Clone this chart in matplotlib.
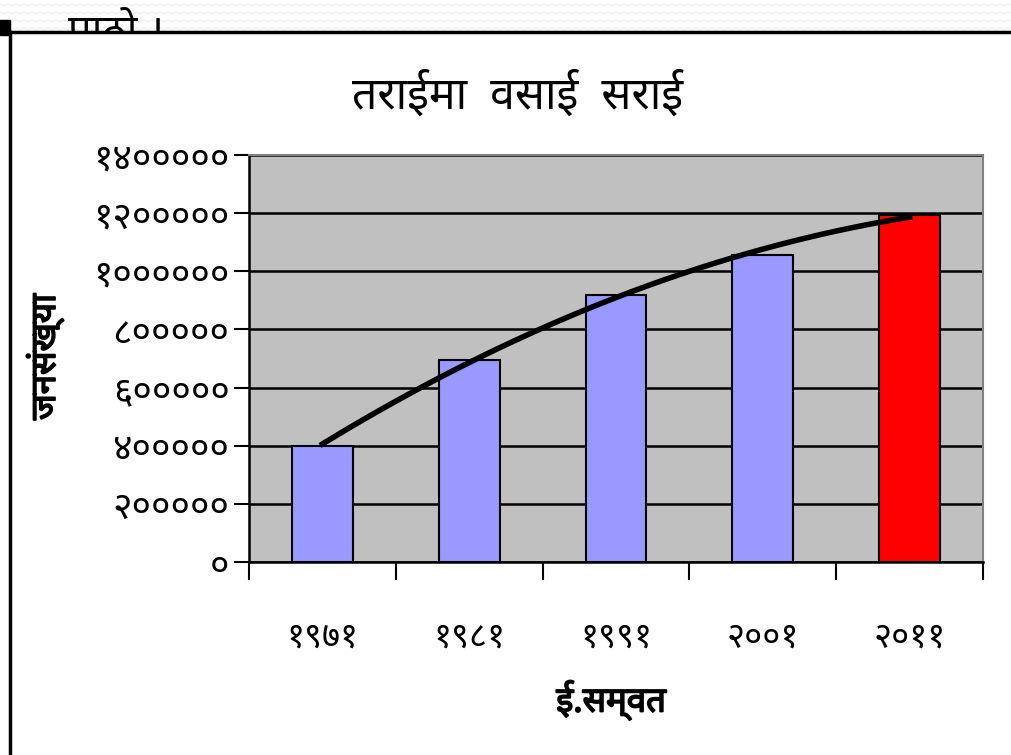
import numpy as np
import matplotlib
matplotlib.use("Agg")
import matplotlib.pyplot as plt
from matplotlib import font_manager as fm
from matplotlib import patheffects as pe
from matplotlib.transforms import Bbox, TransformedBbox

# डाटा
years = ['१९७१', '१९८१', '१९९१', '२००१', '२०११']
population = [400000, 695000, 918000, 1056000, 1195000]
bar_colors = ['#9999FF', '#9999FF', '#9999FF', '#9999FF', '#FF0000']
yticks = [0, 200000, 400000, 600000, 800000, 1000000, 1200000, 1400000]
ytick_labels = ['०', '२०००००', '४०००००', '६०००००', '८०००००',
                '१००००००', '१२०००००', '१४०००००']
title = 'तराईमा  वसाई  सराई'
xlabel = 'ई.सम्वत'
ylabel = 'जनसंख्या'
top_text = 'पाठो ।'

# Devanagari font (Mangal jasto)
names = {f.name for f in fm.fontManager.ttflist}
deva = None
for n in ['Noto Sans Devanagari', 'Hind', 'Mukta', 'Ek Mukta', 'Annapurna SIL', 'FreeSans']:
    if n in names:
        deva = n
        break
plt.rcParams['font.family'] = [deva, 'DejaVu Sans'] if deva else ['DejaVu Sans']

fig = plt.figure(figsize=(10.11, 7.55), dpi=100)
W, H = 1011, 755
bold = [pe.withStroke(linewidth=1.2, foreground='black')]

# halka zigzag pattern mathi
zx = np.arange(0, W + 8, 4)
for row in range(4):
    zy = 4 + row * 8 + 2 * (np.arange(len(zx)) % 2)
    fig.add_artist(plt.Line2D(zx / W, 1 - zy / H, color='#F0F0F0', lw=1, zorder=0))

# top decoration: frame lines + clipped heading
fig.add_artist(plt.Line2D([10 / W, 1], [1 - 32 / H, 1 - 32 / H], color='black', lw=2.5, zorder=3))
fig.add_artist(plt.Line2D([10 / W, 10 / W], [0, 1 - 32 / H], color='black', lw=2.5, zorder=3))
fig.add_artist(plt.Rectangle((0, 1 - 35 / H), 10 / W, 15 / H, color='black', zorder=4))
t = fig.text(68 / W, 1 - 44 / H, top_text, fontsize=30, va='baseline', ha='left')
t.set_clip_box(TransformedBbox(Bbox([[0, 1 - 32 / H], [1, 1]]), fig.transFigure))
t.set_clip_on(True)

ax = fig.add_axes([249 / W, 1 - 562 / H, (983 - 249) / W, (562 - 155) / H])
ax.set_facecolor('#C0C0C0')
ax.set_axisbelow(True)

x = np.arange(len(years))
ax.bar(x, population, width=0.415, color=bar_colors, edgecolor='black', linewidth=1.5, zorder=3)

# polynomial trendline (order 2)
coef = np.polyfit(x, population, 2)
xs = np.linspace(x[0], x[-1], 100)
ax.plot(xs, np.polyval(coef, xs), color='black', lw=4, zorder=4)

ax.set_xlim(-0.5, len(years) - 0.5)
ax.set_ylim(0, 1400000)
ax.set_yticks(yticks)
ax.set_yticklabels(ytick_labels, fontsize=27)
ax.yaxis.grid(True, color='black', lw=1.8)
ax.set_xticks(np.arange(len(years) + 1) - 0.5)
ax.set_xticklabels([])
ax.set_xticks(x, minor=True)
ax.set_xticklabels(years, minor=True, fontsize=25)
ax.tick_params(axis='x', which='major', length=13, width=1.5, direction='out')
ax.tick_params(axis='x', which='minor', length=0, pad=42)
ax.tick_params(axis='y', length=11, width=1.5, direction='out', pad=3)

for s in ['left', 'bottom']:
    ax.spines[s].set_linewidth(1.8)
    ax.spines[s].set_color('black')
for s in ['right', 'top']:
    ax.spines[s].set_color('#808080')
    ax.spines[s].set_linewidth(1.5)

fig.text(518 / W, 1 - 96 / H, title, fontsize=32, ha='center', va='center')
fig.text(611 / W, 1 - 700 / H, xlabel, fontsize=25, ha='center', va='center', path_effects=bold)
fig.text(45 / W, 1 - 357 / H, ylabel, fontsize=25, rotation=90,
         ha='center', va='center', path_effects=bold)

fig.savefig('out.png', dpi=100)
